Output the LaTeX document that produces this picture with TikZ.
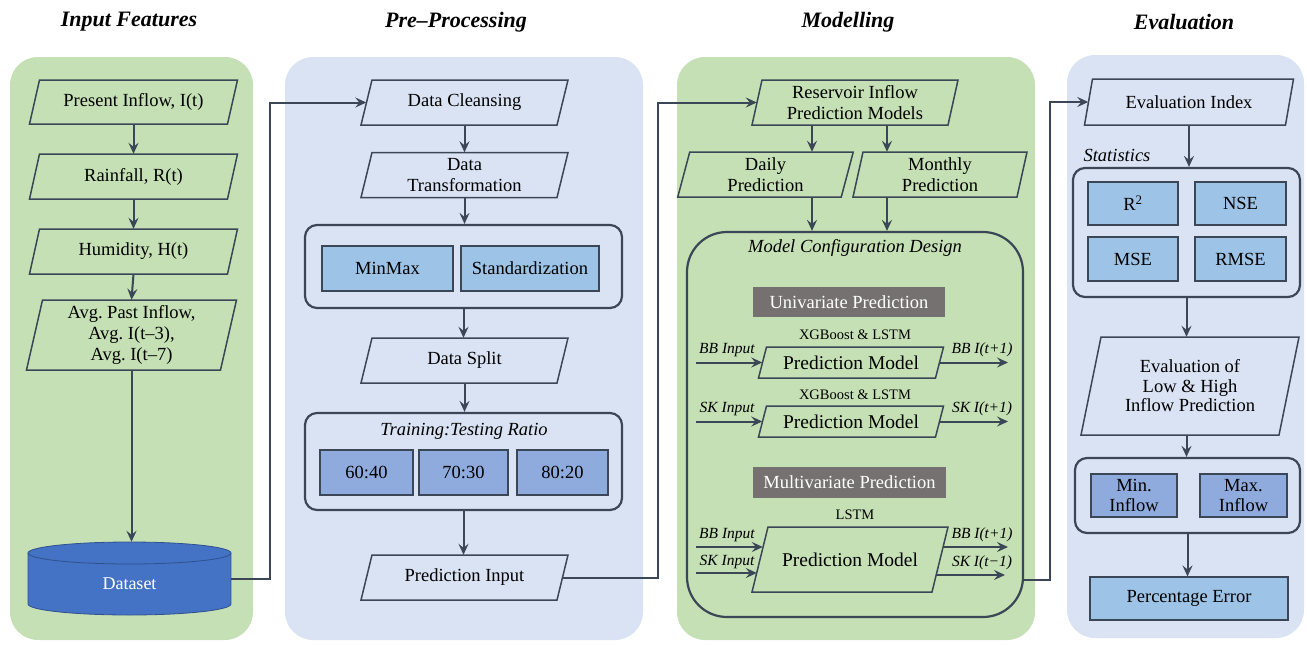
\documentclass[tikz,border=0pt]{standalone}
\usepackage{fontspec}
\setmainfont{Liberation Serif}
\usetikzlibrary{calc,arrows.meta}
\definecolor{pgreen}{HTML}{C5E0B4}
\definecolor{pblue}{HTML}{DAE3F3}
\definecolor{lc}{HTML}{3B4656}
\definecolor{bluebox}{HTML}{9DC3E6}
\definecolor{violbox}{HTML}{8FAADC}
\definecolor{graybox}{HTML}{767171}
\definecolor{dsfill}{HTML}{4472C4}
\definecolor{dsline}{HTML}{2F528F}
\newcommand\ftxt{\fontsize{18.5}{21}\selectfont}
\newcommand\fpm{\fontsize{19.5}{22}\selectfont}
\newcommand\flab{\fontsize{15.5}{18}\selectfont\itshape}
\newcommand\fsm{\fontsize{14.5}{17}\selectfont}
\newcommand\para[8]{%
 \filldraw[draw=lc, line width=1.5pt, fill=#6]
  ($(#2)+({-(#3)/2-(#5)/2},{(#4)/2})$) --
  ($(#2)+({-(#3)/2+(#5)/2},{-(#4)/2})$) --
  ($(#2)+({(#3)/2+(#5)/2},{-(#4)/2})$) --
  ($(#2)+({(#3)/2-(#5)/2},{(#4)/2})$) -- cycle;
 \node[inner sep=0pt, minimum width=#3pt, minimum height=#4pt, align=center, font=#8] (#1) at (#2) {#7};}
\tikzset{
 arr/.style={draw=lc, line width=2pt, -{Stealth[length=11pt,width=10pt,inset=4pt]}},
 panel/.style={rounded corners=28pt, draw=none},
 cont/.style={draw=lc, line width=2.2pt, rounded corners=12pt, inner sep=0pt},
 sbox/.style={draw=lc, line width=1.1pt, inner sep=0pt, align=center, font=\ftxt},
 title/.style={font=\fontsize{22}{26}\selectfont\bfseries\itshape},
 lab/.style={font=\flab, inner sep=0pt},
}
\begin{document}
\frenchspacing
\begin{tikzpicture}[x=1pt,y=-1pt]
\useasboundingbox (0,0) rectangle (1307,645);
% panels
\fill[pgreen, panel] (10,57) rectangle (253,640);
\fill[pblue, panel] (285,57) rectangle (643,640);
\fill[pgreen, panel] (677,57) rectangle (1035,640);
\fill[pblue, panel] (1067,55) rectangle (1304,638);
% titles
\node[title] (t1) at (129,22) {Input Features};
\node[title] (t2) at (456,22) {Pre–Processing};
\node[title] (t3) at (848,22) {Modelling};
\node[title] (t4) at (1184,22) {Evaluation};
% column 1
\para{pin}{133.5,102}{198}{44}{10}{pgreen}{Present Inflow, I(t)}{\ftxt}
\para{rain}{133.5,176.5}{198}{45}{10}{pgreen}{Rainfall, R(t)}{\ftxt}
\para{hum}{133.5,251.5}{198}{45}{10}{pgreen}{Humidity, H(t)}{\ftxt}
\para{avg}{131.5,335}{194}{70}{16}{pgreen}{Avg. Past Inflow,\\Avg. I(t–3),\\Avg. I(t–7)}{\ftxt}
% dataset cylinder
\fill[dsfill] (28,553) rectangle (231,604);
\fill[dsfill] (129.5,604) ellipse [x radius=101.5, y radius=11];
\draw[dsline, line width=0.8pt] (28,553) -- (28,604) arc[start angle=180, end angle=0, x radius=101.5, y radius=11] -- (231,553);
\filldraw[fill=dsfill, draw=dsline, line width=0.8pt] (129.5,553) ellipse [x radius=101.5, y radius=11];
\node[inner sep=0pt, minimum width=203pt, minimum height=73pt] (dataset) at (129.5,578.5) {};
\node[inner sep=0pt, text=white, font=\fontsize{18}{21}\selectfont] (dstext) at (129.5,584) {Dataset};
\draw[arr] (pin.south) -- (rain.north);
\draw[arr] (rain.south) -- (hum.north);
\draw[arr] (hum.south) -- (avg.north);
\draw[arr] (avg.south) -- (avg.south |- dataset.north);
% column 2
\para{clean}{464.5,102.5}{196}{45}{11}{pblue}{Data Cleansing}{\ftxt}
\para{trans}{464.5,175}{196}{45}{11}{pblue}{Data\\Transformation}{\ftxt}
\node[cont, fill=pblue, minimum width=317pt, minimum height=83pt] (c1) at (463.5,266.5) {};
\node[sbox, fill=bluebox, minimum width=131pt, minimum height=45pt] (minmax) at (387.5,268.5) {MinMax};
\node[sbox, fill=bluebox, minimum width=138pt, minimum height=45pt] (stdz) at (530,268.5) {Standardization};
\para{split}{464.5,360.5}{196}{45}{11}{pblue}{Data Split}{\ftxt}
\node[cont, fill=pblue, minimum width=317pt, minimum height=97pt] (c2) at (463.5,461.5) {};
\node[font=\ftxt\itshape, inner sep=0pt] (ttr) at (464,431) {Training:Testing Ratio};
\node[sbox, fill=violbox, minimum width=93pt, minimum height=45pt] (r1) at (366.5,472.5) {60:40};
\node[sbox, fill=violbox, minimum width=89pt, minimum height=45pt] (r2) at (463.5,472.5) {70:30};
\node[sbox, fill=violbox, minimum width=91pt, minimum height=45pt] (r3) at (562.5,472.5) {80:20};
\para{pinput}{464.5,577.5}{196}{45}{11}{pblue}{Prediction Input}{\ftxt}
\draw[arr] (clean.south) -- (trans.north);
\draw[arr] (trans.south) -- (trans.south |- c1.north);
\draw[arr] (c1.south) -- (c1.south |- split.north);
\draw[arr] (split.south) -- (split.south |- c2.north);
\draw[arr] (c2.south) -- (c2.south |- pinput.north);
\coordinate (j1) at (270,0);
\draw[arr] (dataset.east) -- (dataset.east -| j1) |- (clean.west);
% column 3
\para{res}{855,102.5}{196}{45}{10}{pgreen}{Reservoir Inflow\\Prediction Models}{\ftxt}
\para{daily}{765.5,174.5}{163.5}{45}{12}{pgreen}{Daily\\Prediction}{\ftxt}
\para{monthly}{940,174.5}{164}{45}{10}{pgreen}{Monthly\\Prediction}{\ftxt}
\node[cont, rounded corners=40pt, fill=pgreen, minimum width=336pt, minimum height=385pt] (cfg) at (855,424.5) {};
\node[font=\ftxt\itshape, inner sep=0pt] (cfgl) at (855,248) {Model Configuration Design};
\node[fill=graybox, text=white, inner sep=0pt, minimum width=192pt, minimum height=30pt, font=\ftxt] (uni) at (849,302) {Univariate Prediction};
\node[font=\fsm, inner sep=0pt] (xg1) at (855,335) {XGBoost \& LSTM};
\para{pm1}{851,362.5}{177}{31}{8}{pgreen}{Prediction Model}{\fpm}
\node[font=\fsm, inner sep=0pt] (xg2) at (855,395) {XGBoost \& LSTM};
\para{pm2}{851,421.5}{177}{31}{8}{pgreen}{Prediction Model}{\fpm}
\node[fill=graybox, text=white, inner sep=0pt, minimum width=193pt, minimum height=31pt, font=\ftxt] (multi) at (849.5,482.5) {Multivariate Prediction};
\node[font=\fsm, inner sep=0pt] (lstm) at (855,515) {LSTM};
\para{pm3}{850,559.5}{180}{65}{16}{pgreen}{Prediction Model}{\fpm}
% univariate arrows
\coordinate (bbi1) at (696,362.5);
\coordinate (bbo1) at (1008,362.5);
\coordinate (ski2) at (696,421.5);
\coordinate (sko2) at (1008,421.5);
\draw[arr] (bbi1) -- (pm1.west);
\draw[arr] (pm1.east) -- (bbo1);
\draw[arr] (ski2) -- (pm2.west);
\draw[arr] (pm2.east) -- (sko2);
\node[lab] (lbi1) at (727,350) {BB Input};
\node[lab] (lbo1) at (982,350) {BB I(t+1)};
\node[lab] (lsi2) at (727,409) {SK Input};
\node[lab] (lso2) at (982,409) {SK I(t+1)};
% multivariate arrows
\coordinate (bbi3) at (696,547);
\coordinate (ski3) at (696,573);
\coordinate (bbo3) at (1008,547);
\coordinate (sko3) at (1005,575);
\draw[arr] (bbi3) -- ([xshift=3pt]bbi3 -| pm3.west);
\draw[arr] (ski3) -- ([xshift=-3pt]ski3 -| pm3.west);
\draw[arr] ([xshift=3pt]bbo3 -| pm3.east) -- (bbo3);
\draw[arr] ([xshift=-3pt]sko3 -| pm3.east) -- (sko3);
\node[lab] (lbi3) at (727,535) {BB Input};
\node[lab] (lsi3) at (727,562) {SK Input};
\node[lab] (lbo3) at (982,535) {BB I(t+1)};
\node[lab] (lso3) at (982,563) {SK I(t−1)};
\draw[arr] ([xshift=-43pt]res.south) -- ([xshift=-43pt]res.south |- daily.north);
\draw[arr] ([xshift=32pt]res.south) -- ([xshift=32pt]res.south |- monthly.north);
\draw[arr] ([xshift=46.5pt]daily.south) -- ([xshift=46.5pt]daily.south |- cfg.north);
\draw[arr] ([xshift=-53pt]monthly.south) -- ([xshift=-53pt]monthly.south |- cfg.north);
\coordinate (j2) at (658,0);
\draw[arr] (pinput.east) -- (pinput.east -| j2) |- (res.west);
% column 4
\para{evalidx}{1189,102}{201}{46}{8}{pblue}{Evaluation Index}{\ftxt}
\node[font=\ftxt\itshape, inner sep=0pt] (statl) at (1117,155) {Statistics};
\node[cont, fill=pblue, minimum width=227pt, minimum height=129pt] (stats) at (1186.5,232.5) {};
\node[sbox, fill=bluebox, minimum width=90pt, minimum height=43pt] (r2b) at (1133,203.5) {R\textsuperscript{2}};
\node[sbox, fill=bluebox, minimum width=91pt, minimum height=43pt] (nse) at (1240.5,203.5) {NSE};
\node[sbox, fill=bluebox, minimum width=90pt, minimum height=44pt] (mse) at (1133,259) {MSE};
\node[sbox, fill=bluebox, minimum width=91pt, minimum height=44pt] (rmse) at (1240.5,259) {RMSE};
\para{low}{1190,386}{198}{98}{20}{pblue}{Evaluation of\\Low \& High\\Inflow Prediction}{\fontsize{18.5}{19.5}\selectfont}
\node[cont, fill=pblue, minimum width=225pt, minimum height=75pt] (mm) at (1187.5,495.5) {};
\node[sbox, fill=violbox, minimum width=86pt, minimum height=43pt, font=\fontsize{18.5}{20}\selectfont] (minf) at (1134,495.5) {Min.\\Inflow};
\node[sbox, fill=violbox, minimum width=87pt, minimum height=43pt, font=\fontsize{18.5}{20}\selectfont] (maxf) at (1243.5,495.5) {Max.\\Inflow};
\node[sbox, fill=bluebox, minimum width=198pt, minimum height=43pt] (pe) at (1189,598.5) {Percentage Error};
\draw[arr] (evalidx.south) -- (evalidx.south |- stats.north);
\draw[arr] (stats.south) -- (stats.south |- low.north);
\draw[arr] (stats.south |- low.south) -- (stats.south |- mm.north);
\draw[arr] (mm.south) -- (mm.south |- pe.north);
\coordinate (j3) at (1050,0);
\draw[arr] ([yshift=-155.5pt]cfg.east) -- ([yshift=-155.5pt]cfg.east -| j3) |- (evalidx.west);
\end{tikzpicture}
\end{document}
